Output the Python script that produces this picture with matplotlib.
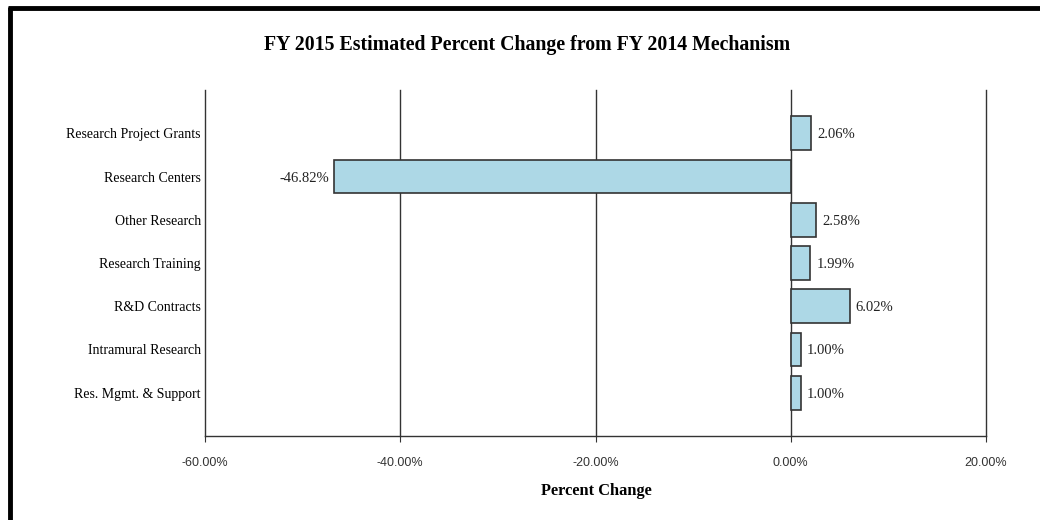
import matplotlib
matplotlib.use("Agg")
import matplotlib.pyplot as plt
from matplotlib.lines import Line2D
from matplotlib.ticker import FuncFormatter

categories = ["Research Project Grants", "Research Centers", "Other Research",
              "Research Training", "R&D Contracts", "Intramural Research",
              "Res. Mgmt. & Support"]
values = [2.06, -46.82, 2.58, 1.99, 6.02, 1.00, 1.00]
xticks = [-60, -40, -20, 0, 20]
title = "FY 2015 Estimated Percent Change from FY 2014 Mechanism"
xlabel = "Percent Change"

W, H = 1040, 520
fig = plt.figure(figsize=(W / 100, H / 100), dpi=100)
ax = fig.add_axes([205 / W, 1 - 436 / H, (986 - 205) / W, (436 - 90) / H])

ypos = list(range(len(categories)))
ax.barh(ypos, values, height=0.78, color="#ADD8E6", edgecolor="#333333",
        linewidth=1.2, zorder=3)
ax.set_ylim(len(categories), -1)
ax.set_xlim(xticks[0], xticks[-1])
ax.set_xticks(xticks)
ax.xaxis.set_major_formatter(FuncFormatter(lambda v, p: f"{v:.2f}%"))
ax.set_yticks(ypos)
ax.set_yticklabels(categories, fontfamily="Liberation Serif", fontsize=10)
for lab in ax.get_xticklabels():
    lab.set_fontfamily("Liberation Sans")
    lab.set_fontsize(9)
    lab.set_color("#333333")
ax.tick_params(axis="y", length=0, pad=3)
ax.tick_params(axis="x", length=4, pad=11, color="#333333")

for t in xticks[1:]:
    ax.axvline(t, color="#333333", linewidth=1.0, zorder=1, clip_on=False)
for s in ["top", "right"]:
    ax.spines[s].set_visible(False)
for s in ["left", "bottom"]:
    ax.spines[s].set_color("#333333")
    ax.spines[s].set_linewidth(1.0)

for y, v in zip(ypos, values):
    if v >= 0:
        ax.annotate(f"{v:.2f}%", (v, y), xytext=(4.5, 0), textcoords="offset points",
                    ha="left", va="center_baseline", fontfamily="Liberation Serif",
                    fontsize=10.5, color="#222222")
    else:
        ax.annotate(f"{v:.2f}%", (v, y), xytext=(-3, 0), textcoords="offset points",
                    ha="right", va="center_baseline", fontfamily="Liberation Serif",
                    fontsize=10.5, color="#222222")

fig.text(527 / W, 1 - 45 / H, title, ha="center", va="center",
         fontfamily="Liberation Serif", fontweight="bold", fontsize=14.3)
fig.text(596 / W, 1 - 491 / H, xlabel, ha="center", va="center",
         fontfamily="Liberation Serif", fontweight="bold", fontsize=11.8)

# figure border (top and left)
fig.add_artist(Line2D([8 / W, 1], [1 - 8 / H, 1 - 8 / H], transform=fig.transFigure,
                      color="black", linewidth=3.5, solid_capstyle="butt"))
fig.add_artist(Line2D([9.5 / W, 9.5 / W], [0, 1 - 6.5 / H], transform=fig.transFigure,
                      color="black", linewidth=3.5, solid_capstyle="butt"))

fig.savefig("out.png", dpi=100)
